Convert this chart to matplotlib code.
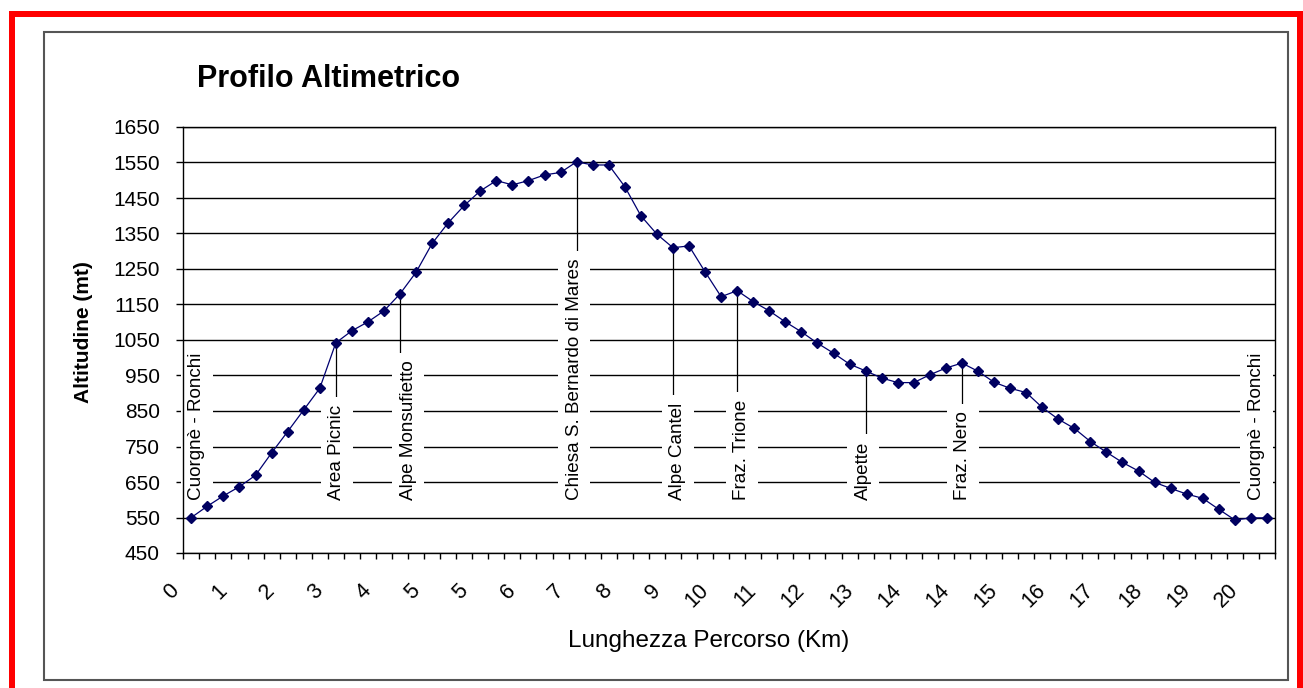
import numpy as np
from matplotlib import pyplot as plt
from matplotlib.patches import Rectangle
from matplotlib.transforms import ScaledTranslation

plt.rcParams["font.family"] = ["Liberation Sans", "DejaVu Sans"]

# altitude (m) at each 0.3 km step of the route
altitude = [
    550, 582, 611, 637, 669, 732, 792, 853, 914, 1042,
    1076, 1101, 1132, 1180, 1241, 1322, 1380, 1429, 1470, 1499,
    1487, 1499, 1515, 1522, 1552, 1543, 1543, 1482, 1400, 1348,
    1310, 1315, 1242, 1172, 1189, 1158, 1132, 1101, 1073, 1041,
    1013, 982, 963, 943, 930, 930, 952, 971, 985, 962,
    931, 914, 902, 860, 827, 801, 764, 734, 705, 681,
    649, 632, 616, 604, 573, 543, 549, 549,
]
km_labels = ["0", "1", "2", "3", "4", "5", "5", "6", "7", "8", "9", "10",
             "11", "12", "13", "14", "14", "15", "16", "17", "18", "19", "20"]
places = ["Cuorgnè - Ronchi", "Area Picnic", "Alpe Monsufietto",
          "Chiesa S. Bernardo di Mares", "Alpe Cantel", "Fraz. Trione",
          "Alpette", "Fraz. Nero", "Cuorgnè - Ronchi"]
place_idx = [0, 9, 13, 24, 30, 34, 42, 48, 66]
y_ticks = list(range(450, 1651, 100))

# layout (pixels / category shifts)
W, H = 1303, 688
place_dx = [0.35, 0.05, 0.5, -0.15, 0.3, 0.3, -0.15, 0.05, 0.35]
has_leader = [False, True, True, True, True, True, True, True, False]
label_bottom = 599

fig = plt.figure(figsize=(W / 100, H / 100), dpi=100)
fig.patch.set_facecolor("white")

# outer red frame and grey chart border
for x0, y0, w, h in [(9, 11, 6, 700), (9, 11, 1300, 6), (1297, 11, 6, 700)]:
    fig.add_artist(Rectangle((x0 / W, 1 - (y0 + h) / H), w / W, h / H,
                             transform=fig.transFigure, color="#ff0000", lw=0))
fig.add_artist(Rectangle((44 / W, 1 - 680 / H), (1288 - 44) / W, (680 - 32) / H,
                         transform=fig.transFigure, fill=False,
                         edgecolor="#555555", lw=1.5))

ax = fig.add_axes([183.3 / W, (H - 553) / H, (1275 - 183.3) / W, (553 - 127) / H])
n = len(altitude)
x = np.arange(n)

ax.plot(x, altitude, color="#000070", lw=0.9, marker="D", markersize=5.5,
        markerfacecolor="#000060", markeredgecolor="#000060", zorder=4, clip_on=False)

ax.set_xlim(-0.5, n - 0.5)
ax.set_ylim(450, 1650)
ax.set_yticks(y_ticks)
ax.set_yticklabels([str(v) for v in y_ticks])
ax.set_xticks(np.arange(n + 1) - 0.5)
ax.set_xticklabels([])
ax.tick_params(axis="y", direction="out", length=5, width=1, labelsize=15, pad=12)
ax.tick_params(axis="x", direction="out", length=4.3, width=1)
ax.set_axisbelow(True)
ax.yaxis.grid(True, color="black", lw=1.0)
for s in ax.spines.values():
    s.set_color("black")
    s.set_linewidth(1.0)

# rotated km labels every third step
off = ScaledTranslation(-15.7 / 100, -34.5 / 100, fig.dpi_scale_trans)
for k, lab in enumerate(km_labels):
    ax.text(3 * k, 450, lab, transform=ax.transData + off, rotation=45,
            rotation_mode="anchor", ha="right", va="center", fontsize=15.5,
            clip_on=False)

# place names with leader lines
for name, i, dx, lead in zip(places, place_idx, place_dx, has_leader):
    if lead:
        ax.plot([i, i], [altitude[i], label_bottom + 40], color="black",
                lw=0.9, zorder=1)
    ax.text(i + dx, label_bottom, name, rotation=90, ha="center", va="bottom",
            fontsize=13.6, zorder=2,
            bbox=dict(boxstyle="square,pad=0.4", facecolor="white",
                      edgecolor="none"))

fig.text(197 / W, 1 - 87 / H, "Profilo Altimetrico", fontsize=22,
         fontweight="bold", va="baseline")
fig.text(83.3 / W, 1 - 331.7 / H, "Altitudine (mt)", rotation=90, fontsize=15,
         fontweight="bold", ha="center", va="center")
fig.text(709 / W, 1 - 647 / H, "Lunghezza Percorso (Km)", fontsize=17.5,
         ha="center", va="baseline")

fig.savefig("out.png", dpi=100)
